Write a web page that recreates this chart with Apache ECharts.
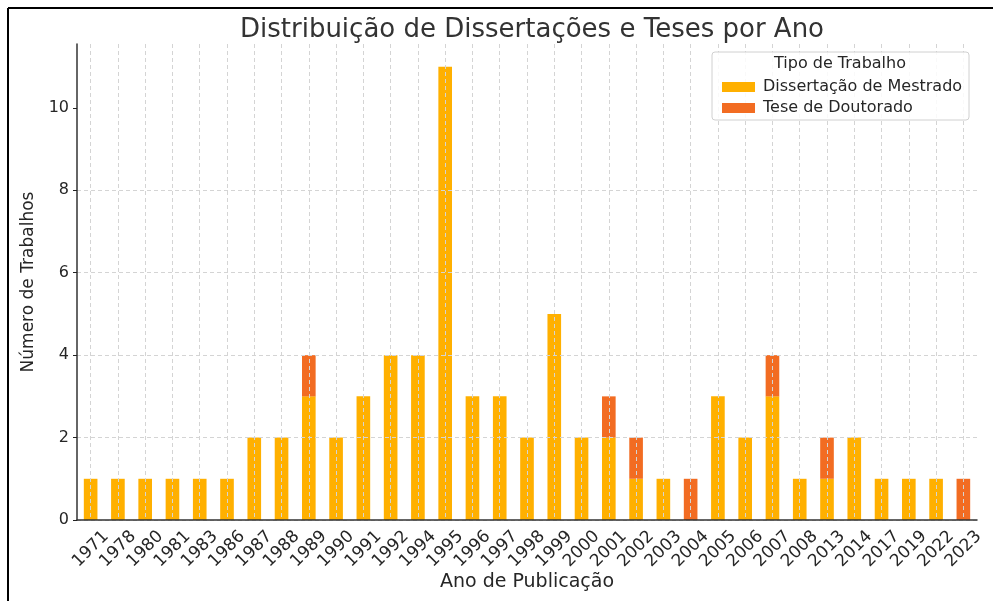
<!DOCTYPE html>
<html>
<head>
<meta charset="utf-8">
<script src="https://cdn.jsdelivr.net/npm/echarts@6/dist/echarts.min.js"></script>
<style>
  html, body { margin: 0; padding: 0; background: #fff; }
  #main { width: 993px; height: 601px; }
</style>
</head>
<body>
<div id="main"></div>
<script>
// anos (categorias)
const years = ['1971', '1978', '1980', '1981', '1983', '1986', '1987', '1988', '1989', '1990',
  '1991', '1992', '1994', '1995', '1996', '1997', '1998', '1999', '2000', '2001',
  '2002', '2003', '2004', '2005', '2006', '2007', '2008', '2013', '2014', '2017',
  '2019', '2022', '2023'];
// Dissertação de Mestrado
const mestrado = [1, 1, 1, 1, 1, 1, 2, 2, 3, 2,
  3, 4, 4, 11, 3, 3, 2, 5, 2, 2,
  1, 1, 0, 3, 2, 3, 1, 1, 2, 1,
  1, 1, 0];
// Tese de Doutorado
const doutorado = [0, 0, 0, 0, 0, 0, 0, 0, 1, 0,
  0, 0, 0, 0, 0, 0, 0, 0, 0, 1,
  1, 0, 1, 0, 0, 1, 0, 1, 0, 0,
  0, 0, 1];
const yTicks = [0, 2, 4, 6, 8, 10];

const font = 'DejaVu Sans';
const txt = '#262626';
const chart = echarts.init(document.getElementById('main'));

const option = {
  backgroundColor: '#fff',
  animation: false,
  title: {
    text: 'Distribuição de Dissertações e Teses por Ano',
    left: 527, top: 12, textAlign: 'center',
    textStyle: { fontFamily: font, fontSize: 26, fontWeight: 'normal', color: '#333' }
  },
  grid: { left: 77, right: 16, top: 44, bottom: 81, containLabel: false },
  legend: {
    orient: 'vertical',
    left: 717, top: 74,
    z: 20,
    itemWidth: 33, itemHeight: 10, itemGap: 5,
    icon: 'rect',
    textStyle: { fontFamily: font, fontSize: 16, color: txt, padding: [0, 0, 0, 3] },
    data: ['Dissertação de Mestrado', 'Tese de Doutorado']
  },
  graphic: [
    { type: 'rect', z: 5, shape: { x: 712, y: 52, width: 257, height: 68, r: 3 },
      style: { fill: 'rgba(255,255,255,0.85)', stroke: '#d0d0d0', lineWidth: 1 } },
    { type: 'text', z: 6, x: 840, y: 64,
      style: { text: 'Tipo de Trabalho', fontFamily: font, fontSize: 16, fill: txt,
        textAlign: 'center', textVerticalAlign: 'middle' } },
    { type: 'line', z: 20, shape: { x1: 8, y1: 8, x2: 993, y2: 8 },
      style: { stroke: '#000', lineWidth: 2 } },
    { type: 'line', z: 20, shape: { x1: 8, y1: 8, x2: 8, y2: 601 },
      style: { stroke: '#000', lineWidth: 2 } }
  ],
  xAxis: {
    type: 'category',
    data: years,
    z: 3,
    name: 'Ano de Publicação',
    nameLocation: 'middle',
    nameGap: 53,
    nameMoveOverlap: false,
    nameTextStyle: { fontFamily: font, fontSize: 19, color: txt },
    axisLine: { lineStyle: { color: '#333', width: 1.5 } },
    axisTick: { alignWithLabel: true, inside: true, length: 5, lineStyle: { color: '#222' } },
    axisLabel: { rotate: 45, interval: 0, margin: 29, align: 'center', verticalAlign: 'middle',
      fontFamily: font, fontSize: 17, color: txt },
    splitLine: { show: true, alignWithLabel: true,
      lineStyle: { color: '#d4d4d4', type: [4, 3], width: 1 } }
  },
  yAxis: {
    type: 'value',
    min: 0, max: 11.55, interval: 2,
    z: 3,
    name: 'Número de Trabalhos',
    nameLocation: 'middle',
    nameGap: 40,
    nameTextStyle: { fontFamily: font, fontSize: 17, color: txt },
    axisLine: { show: true, lineStyle: { color: '#333', width: 1.5 } },
    axisTick: { show: true, length: 4, lineStyle: { color: '#222' }, customValues: yTicks },
    axisLabel: { fontFamily: font, fontSize: 16, color: txt, margin: 8, customValues: yTicks },
    splitLine: { show: true, showMaxLine: false,
      lineStyle: { color: '#d4d4d4', type: [4, 3], width: 1 } }
  },
  series: [
    {
      name: 'Dissertação de Mestrado',
      type: 'bar', stack: 'total', barWidth: '50%',
      itemStyle: { color: '#FFB000' },
      data: mestrado
    },
    {
      name: 'Tese de Doutorado',
      type: 'bar', stack: 'total', barWidth: '50%',
      itemStyle: { color: '#F26C22' },
      data: doutorado
    }
  ]
};

chart.setOption(option);
</script>
</body>
</html>
